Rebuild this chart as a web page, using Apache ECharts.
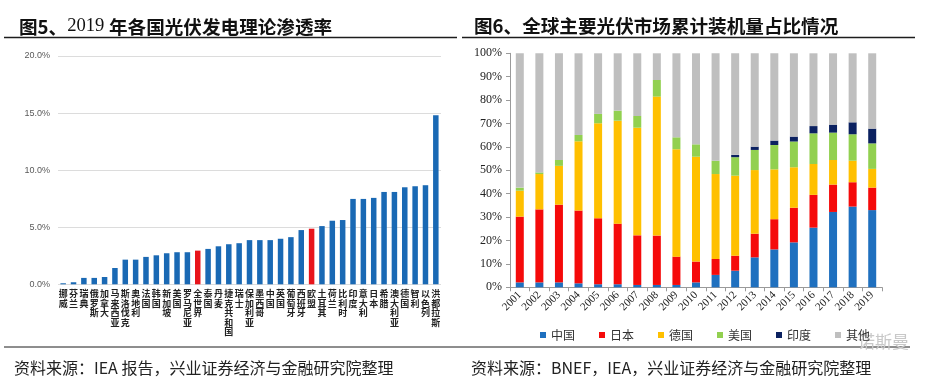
<!DOCTYPE html>
<html><head><meta charset="utf-8">
<script src="https://cdn.jsdelivr.net/npm/echarts@6/dist/echarts.min.js"></script>
<style>html,body{margin:0;padding:0;background:#fff}#c{width:931px;height:386px}</style>
</head><body><div id="c"></div>
<script>
// ---- Figure 5 data ----
const countries = ['挪威','芬兰','瑞典','俄罗斯','加拿大','马来西亚','斯洛伐克','奥地利','法国','韩国','新加坡','美国','罗马尼亚','全世界','泰国','丹麦','捷克共和国','瑞士','保加利亚','墨西哥','中国','英国','葡萄牙','西班牙','欧盟','土耳其','荷兰','比利时','印度','意大利','日本','希腊','澳大利亚','德国','智利','以色列','洪都拉斯'];
const penetration = [0.09,0.18,0.56,0.56,0.64,1.43,2.16,2.16,2.40,2.54,2.72,2.81,2.81,2.95,3.10,3.33,3.51,3.60,3.87,3.87,3.87,3.99,4.13,4.75,4.87,5.10,5.57,5.63,7.48,7.48,7.57,8.09,8.09,8.50,8.59,8.68,14.8];
const highlighted = ['全世界','欧盟'];
const leftTicks = [0,5,10,15,20];

// ---- Figure 6 data ----
const years = ['2001','2002','2003','2004','2005','2006','2007','2008','2009','2010','2011','2012','2013','2014','2015','2016','2017','2018','2019'];
const china   = [2.1,2.1,2.1,1.7,1.3,1.3,1.0,1.0,1.0,2.1,5.3,7.1,12.8,16.2,19.2,25.5,32.2,34.5,33.0];
const japan   = [28.1,31.2,33.2,31.1,28.2,25.9,21.2,21.1,12.1,8.9,6.8,6.4,10.1,12.9,14.8,14.0,11.7,10.4,9.6];
const germany = [11.1,15.1,16.6,29.6,40.6,44.0,46.0,59.4,45.9,44.8,36.3,34.2,27.2,21.3,17.3,13.2,10.5,9.2,8.0];
const usa     = [1.3,0.7,2.5,2.7,4.0,4.3,5.0,7.1,5.1,5.3,5.7,7.9,8.6,10.4,11.0,13.1,11.7,11.3,10.9];
const india   = [0,0,0,0,0,0,0,0,0,0,0,1.0,1.4,1.9,2.1,3.1,3.4,5.1,6.3];
const other   = [57.4,50.9,45.6,34.9,25.9,24.5,26.8,11.4,35.9,38.9,45.9,43.4,39.9,37.3,35.6,31.1,30.5,29.5,32.2];
const seriesNames = ['中国','日本','德国','美国','印度','其他'];
const rightTicks = [0,10,20,30,40,50,60,70,80,90,100];

const rightData = [china, japan, germany, usa, india, other];
const rightColors = ['#1f70bf','#f50a0a','#ffc000','#92d050','#0b2160','#bfbfbf'];

const chart = echarts.init(document.getElementById('c'));
const cjk = '"Noto Sans CJK SC", sans-serif';
const serif = '"Liberation Serif", "DejaVu Serif", serif';

chart.setOption({
  animation: false,
  backgroundColor: '#fff',
  title: [
    { left: 14, top: 12, text: '{s|图5、}{n|2019 }{s|年各国光伏发电理论渗透率}',
      textStyle: { rich: {
        s: { fontFamily: cjk, fontWeight: 'bold', fontSize: 18.6, color: '#111' },
        n: { fontFamily: serif, fontWeight: 'normal', fontSize: 18.6, color: '#111' } } } },
    { left: 469, top: 12, text: '图6、全球主要光伏市场累计装机量占比情况',
      textStyle: { fontFamily: cjk, fontWeight: 'bold', fontSize: 18.6, color: '#111' } },
    { left: 9, top: 355, text: '资料来源：IEA 报告，兴业证券经济与金融研究院整理',
      textStyle: { fontFamily: cjk, fontWeight: 'normal', fontSize: 16, color: '#222' } },
    { left: 466, top: 355, text: '资料来源：BNEF，IEA，兴业证券经济与金融研究院整理',
      textStyle: { fontFamily: cjk, fontWeight: 'normal', fontSize: 16, color: '#222' } }
  ],
  graphic: [
    { type: 'line', shape: { x1: 4, y1: 37.5, x2: 457, y2: 37.5 }, style: { stroke: '#1d1d1d', lineWidth: 1.5 } },
    { type: 'line', shape: { x1: 462, y1: 37.5, x2: 915, y2: 37.5 }, style: { stroke: '#1d1d1d', lineWidth: 1.5 } },
    { type: 'line', shape: { x1: 4, y1: 347, x2: 910, y2: 347 }, style: { stroke: '#1d1d1d', lineWidth: 1 } },
    { type: 'text', left: 858, top: 333, style: { text: '诺斯曼', fontSize: 17, fill: '#c8c8c8', fontFamily: cjk } }
  ],
  legend: {
    left: 535, top: 324, itemWidth: 6, itemHeight: 6, itemGap: 24, icon: 'rect',
    textStyle: { fontFamily: cjk, fontSize: 12, color: '#333' },
    data: seriesNames
  },
  grid: [
    { left: 58, right: 490, top: 56, bottom: 101.7 },
    { left: 510, right: 49, top: 53.3, bottom: 98.7 }
  ],
  xAxis: [
    { type: 'category', gridIndex: 0, data: countries,
      axisLine: { show: false }, axisTick: { show: false },
      axisLabel: { interval: 0, margin: 5, fontSize: 9, lineHeight: 9.4, color: '#222', fontWeight: 'bold', fontFamily: cjk,
        width: 12, overflow: 'none',
        formatter: v => v.split('').join('\n') } },
    { type: 'category', gridIndex: 1, data: years,
      axisLine: { lineStyle: { color: '#9a9a9a' } },
      axisTick: { show: true, length: 4, lineStyle: { color: '#9a9a9a' } },
      axisLabel: { interval: 0, rotate: 45, margin: 6, fontSize: 11, color: '#222', fontFamily: serif } }
  ],
  yAxis: [
    { type: 'value', gridIndex: 0, min: leftTicks[0], max: leftTicks[leftTicks.length-1], interval: 5,
      axisLine: { show: false }, axisTick: { show: false },
      splitLine: { lineStyle: { color: '#dcdcdc' } },
      axisLabel: { margin: 8, fontSize: 9, color: '#595959', fontFamily: '"Liberation Sans", Arial, sans-serif',
        formatter: v => v.toFixed(1) + '%' } },
    { type: 'value', gridIndex: 1, min: rightTicks[0], max: rightTicks[rightTicks.length-1], interval: 10,
      axisLine: { show: true, lineStyle: { color: '#9a9a9a' } },
      axisTick: { show: true, length: 4, lineStyle: { color: '#9a9a9a' } },
      splitLine: { show: false },
      axisLabel: { margin: 8, fontSize: 12, color: '#222', fontFamily: serif, formatter: '{value}%' } }
  ],
  series: [
    { type: 'bar', xAxisIndex: 0, yAxisIndex: 0, barWidth: 5.5,
      data: penetration.map((v, i) => ({ value: v, itemStyle: { color: highlighted.includes(countries[i]) ? '#e8141b' : '#1a69b4' } })) }
  ].concat(seriesNames.map((n, k) => ({
    name: n, type: 'bar', xAxisIndex: 1, yAxisIndex: 1, stack: 'share', barWidth: 8,
    itemStyle: { color: rightColors[k] }, data: rightData[k]
  })))
});
</script></body></html>
